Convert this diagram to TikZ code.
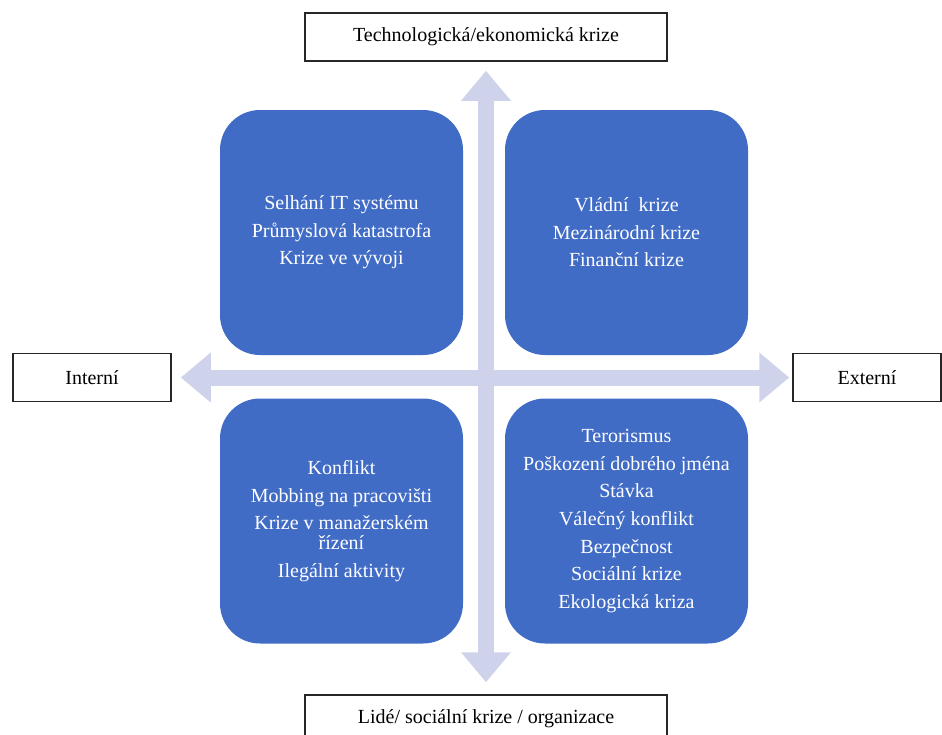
\documentclass[tikz,border=0pt]{standalone}
\usepackage{fontspec}
\setmainfont{Liberation Serif}
\usetikzlibrary{arrows.meta}
\definecolor{modra}{RGB}{65,108,198}
\definecolor{sipka}{RGB}{206,211,235}
\tikzset{
stitek/.style={draw=black!85, line width=.75pt, minimum height=24pt, inner sep=0pt},
ctverec/.style={fill=modra, text=white, rounded corners=20pt, minimum width=121.5pt, minimum height=122.5pt, align=center, font=\fontsize{10}{10}\selectfont},
osa/.style={draw=sipka, line width=8pt, {Triangle[width=24pt,length=15pt]}-{Triangle[width=24pt,length=15pt]}}
}
\begin{document}
\begin{tikzpicture}[x=.5pt,y=-.5pt,font=\fontsize{10}{12}\selectfont]
\useasboundingbox (0,0) rectangle (942,734);
% stitky os
\node[stitek,minimum width=181pt] (tech) at (486,37) {Technologická/ekonomická krize};
\node[stitek,minimum width=181pt] (lide) at (486,719) {Lidé/ sociální krize / organizace};
\node[stitek,minimum width=79pt] (intern) at (92,377.5) {Interní};
\node[stitek,minimum width=74pt] (extern) at (867,377.5) {Externí};
% osy
\draw[osa, shorten <=4.5pt, shorten >=6pt] (tech) -- (lide);
\draw[osa, shorten <=4.5pt, shorten >=1.5pt] (intern) -- (extern);
% kvadranty
\node[ctverec] (TL) at (341.5,232.5) {Selhání IT systému\\[3.8pt] Průmyslová katastrofa\\[3.8pt] Krize ve vývoji};
\node[ctverec] (TR) at (626.5,232.5) {Vládní\ \ krize\\[3.8pt] Mezinárodní krize\\[3.8pt] Finanční krize};
\node[ctverec] (BL) at (341.5,521) {Konflikt\\[3.8pt] Mobbing na pracovišti\\[3.8pt] Krize v manažerském\\ řízení\\[3.8pt] Ilegální aktivity};
\node[ctverec] (BR) at (626.5,521) {Terorismus\\[3.8pt] Poškození dobrého jména\\[3.8pt] Stávka\\[3.8pt] Válečný konflikt\\[3.8pt] Bezpečnost\\[3.8pt] Sociální krize\\[3.8pt] Ekologická kriza};
\end{tikzpicture}
\end{document}
